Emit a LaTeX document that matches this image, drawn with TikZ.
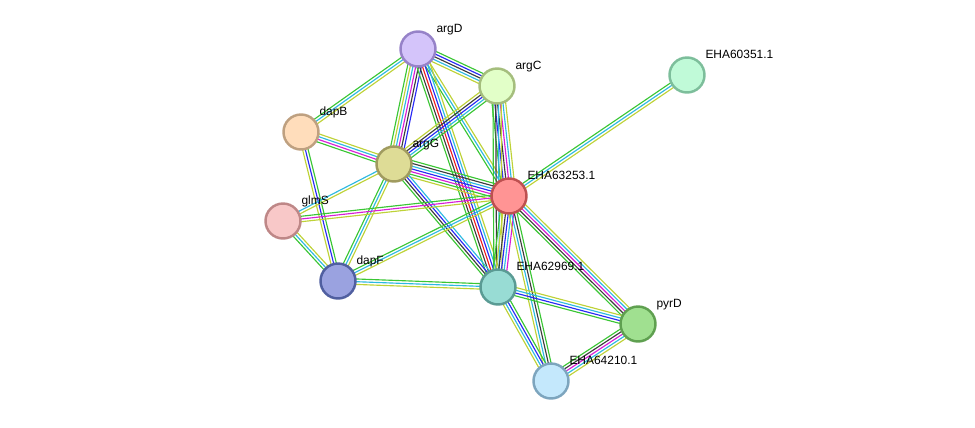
\documentclass[tikz,border=0pt]{standalone}
\usepackage{fontspec}
\setmainfont{Liberation Sans}
\usetikzlibrary{calc}
\usetikzlibrary{backgrounds}

% evidence channel colours
\definecolor{evgreen}{RGB}{58,198,52}
\definecolor{evred}{RGB}{240,30,30}
\definecolor{evblue}{RGB}{40,40,245}
\definecolor{evblack}{RGB}{60,60,60}
\definecolor{evmag}{RGB}{215,30,215}
\definecolor{evcyan}{RGB}{45,185,225}
\definecolor{evyel}{RGB}{190,210,55}

\tikzset{
  prot/.style={circle, draw, line width=1.4pt, minimum size=0.7cm, inner sep=0pt},
  lbl/.style={anchor=base west, inner sep=0pt, font=\fontsize{6.8}{7}\selectfont, xshift=2.8pt, yshift=1.6pt},
  evline/.style={line width=0.65pt},
}

% one bundle of parallel lines between two proteins
\newcommand{\evidence}[3]{%
  \foreach \col [count=\k] in {#3} {\xdef\nlines{\k}}%
  \foreach \col [count=\k] in {#3} {%
    \pgfmathsetmacro{\off}{(\k-(\nlines+1)/2)*1.55}%
    \draw[evline, \col] ($(#1)!\off pt!90:(#2)$) -- ($(#2)!\off pt!-90:(#1)$);
  }%
}

\begin{document}
\begin{tikzpicture}[x=0.02cm, y=-0.02cm]
  \useasboundingbox (0,0) rectangle (975,427);

  \node[prot, fill={rgb,255:red,212;green,196;blue,250}, draw={rgb,255:red,150;green,130;blue,200}, label={[lbl]45:argD}] (argD) at (418,49) {};
  \node[prot, fill={rgb,255:red,226;green,255;blue,200}, draw={rgb,255:red,165;green,190;blue,125}, label={[lbl]45:argC}] (argC) at (497,86) {};
  \node[prot, fill={rgb,255:red,192;green,250;blue,216}, draw={rgb,255:red,125;green,190;blue,155}, label={[lbl]45:EHA60351.1}] (eha60351) at (687,75) {};
  \node[prot, fill={rgb,255:red,255;green,221;blue,187}, draw={rgb,255:red,190;green,160;blue,128}, label={[lbl]45:dapB}] (dapB) at (301,132) {};
  \node[prot, fill={rgb,255:red,222;green,220;blue,150}, draw={rgb,255:red,160;green,155;blue,95}, label={[lbl]45:argG}] (argG) at (394,164) {};
  \node[prot, fill={rgb,255:red,255;green,148;blue,148}, draw={rgb,255:red,190;green,80;blue,80}, label={[lbl]45:EHA63253.1}] (eha63253) at (509,196) {};
  \node[prot, fill={rgb,255:red,248;green,200;blue,200}, draw={rgb,255:red,190;green,135;blue,135}, label={[lbl]45:glmS}] (glmS) at (283,221) {};
  \node[prot, fill={rgb,255:red,154;green,162;blue,224}, draw={rgb,255:red,80;green,95;blue,160}, label={[lbl]45:dapF}] (dapF) at (338,281) {};
  \node[prot, fill={rgb,255:red,152;green,220;blue,212}, draw={rgb,255:red,90;green,155;blue,148}, label={[lbl]45:EHA62969.1}] (eha62969) at (498,287) {};
  \node[prot, fill={rgb,255:red,160;green,224;blue,144}, draw={rgb,255:red,95;green,160;blue,80}, label={[lbl]45:pyrD}] (pyrD) at (638,324) {};
  \node[prot, fill={rgb,255:red,196;green,232;blue,252}, draw={rgb,255:red,125;green,165;blue,190}, label={[lbl]45:EHA64210.1}] (eha64210) at (551,381) {};

  \begin{scope}[on background layer]
    \evidence{argD}{argC}{evyel,evcyan,evblack,evblue,evgreen}
    \evidence{argD}{dapB}{evgreen,evcyan,evyel}
    \evidence{argD}{argG}{evgreen,evyel,evcyan,evmag,evblack,evblue}
    \evidence{argD}{eha63253}{evgreen,evcyan,evyel}
    \evidence{argD}{eha62969}{evgreen,evblack,evred,evblue,evcyan,evyel}
    \evidence{argC}{argG}{evyel,evblack,evblue,evcyan,evgreen}
    \evidence{argC}{eha63253}{evgreen,evblue,evblack,evmag,evcyan,evyel}
    \evidence{argC}{eha62969}{evgreen,evblack,evcyan,evyel}
    \evidence{eha60351}{eha63253}{evgreen,evcyan,evyel}
    \evidence{dapB}{argG}{evgreen,evmag,evcyan,evyel}
    \evidence{dapB}{dapF}{evyel,evblue,evgreen}
    \evidence{argG}{eha63253}{evyel,evgreen,evmag,evblue,evcyan,evblack,evgreen}
    \evidence{argG}{glmS}{evcyan,evyel}
    \evidence{argG}{dapF}{evgreen,evcyan,evyel}
    \evidence{argG}{eha62969}{evgreen,evblack,evblue,evcyan}
    \evidence{glmS}{eha63253}{evyel,evmag,evgreen}
    \evidence{glmS}{dapF}{evgreen,evcyan,evyel}
    \evidence{dapF}{eha63253}{evyel,evcyan,evgreen}
    \evidence{dapF}{eha62969}{evyel,evcyan,evgreen}
    \evidence{eha63253}{eha62969}{evgreen,evyel,evblack,evblue,evcyan,evmag}
    \evidence{eha63253}{pyrD}{evgreen,evblack,evmag,evcyan,evyel}
    \evidence{eha63253}{eha64210}{evyel,evcyan,evblack,evgreen}
    \evidence{eha62969}{pyrD}{evgreen,evblue,evcyan,evyel}
    \evidence{eha62969}{eha64210}{evyel,evcyan,evblue,evgreen}
    \evidence{pyrD}{eha64210}{evgreen,evblack,evmag,evcyan,evyel}
  \end{scope}
\end{tikzpicture}
\end{document}
